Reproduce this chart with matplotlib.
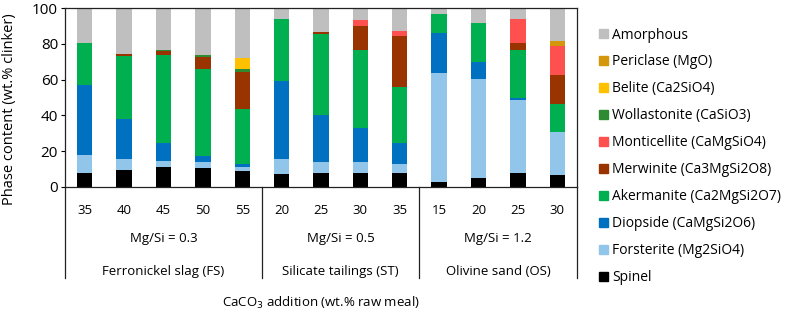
import numpy as np
import matplotlib
matplotlib.use('Agg')
import matplotlib.pyplot as plt
import matplotlib.patches as pch
from matplotlib.lines import Line2D

plt.rcParams['font.family'] = ['Open Sans', 'DejaVu Sans']

""" data """

categories = ['35', '40', '45', '50', '55', '20', '25', '30', '35', '15', '20', '25', '30']
groups = ['Ferronickel slag (FS)', 'Silicate tailings (ST)', 'Olivine sand (OS)']
ratios = ['Mg/Si = 0.3', 'Mg/Si = 0.5', 'Mg/Si = 1.2']
group_sizes = [5, 4, 4]

spinel       = [7.8, 9.7, 11.4, 10.6, 9.0, 7.3, 8.0, 7.8, 7.8, 3.0, 5.0, 7.8, 6.5]
forsterite   = [10.3, 5.8, 3.0, 3.2, 2.0, 8.2, 6.2, 6.0, 5.3, 60.8, 55.4, 40.9, 24.1]
diopside     = [39.0, 22.6, 10.0, 3.7, 1.7, 43.8, 25.9, 19.4, 11.3, 22.4, 9.6, 1.1, 0.0]
akermanite   = [23.1, 35.2, 49.1, 48.5, 31.0, 34.5, 45.3, 43.3, 31.2, 10.4, 21.6, 26.7, 15.9]
merwinite    = [0.0, 1.1, 2.4, 6.4, 20.7, 0.0, 1.2, 13.6, 28.5, 0.0, 0.0, 3.9, 15.8]
monticellite = [0.0, 0.0, 0.0, 0.0, 0.0, 0.0, 0.0, 3.2, 2.8, 0.0, 0.0, 13.4, 16.6]
wollastonite = [0.0, 0.0, 0.8, 1.1, 1.6, 0.0, 0.0, 0.0, 0.0, 0.0, 0.0, 0.0, 0.0]
belite       = [0.0, 0.0, 0.0, 0.0, 6.0, 0.0, 0.0, 0.0, 0.0, 0.0, 0.0, 0.0, 0.0]
periclase    = [0.0, 0.0, 0.0, 0.0, 0.0, 0.0, 0.0, 0.0, 0.0, 0.0, 0.0, 0.0, 2.8]
amorphous    = [19.8, 25.6, 23.3, 26.5, 28.0, 6.2, 13.4, 6.7, 13.1, 3.4, 8.4, 6.2, 18.3]

# stacking order bottom -> top
phases = [
    ('Spinel', spinel, '#000000'),
    ('Forsterite (Mg2SiO4)', forsterite, '#92C5EA'),
    ('Diopside (CaMgSi2O6)', diopside, '#0070C0'),
    ('Akermanite (Ca2MgSi2O7)', akermanite, '#00B050'),
    ('Merwinite (Ca3MgSi2O8)', merwinite, '#993300'),
    ('Monticellite (CaMgSiO4)', monticellite, '#FF5050'),
    ('Wollastonite (CaSiO3)', wollastonite, '#2E8B32'),
    ('Belite (Ca2SiO4)', belite, '#FFC000'),
    ('Periclase (MgO)', periclase, '#D4960A'),
    ('Amorphous', amorphous, '#BFBFBF'),
]

""" plot """

fig = plt.figure(figsize=(7.96, 3.14), dpi=100)
ax = fig.add_axes([0.0817, 0.4045, 0.6432, 0.570])

x = np.arange(len(categories))
bottom = np.zeros(len(categories))
handles = []
for name, vals, colour in phases:
    vals = np.array(vals)
    ax.bar(x, vals, width=0.39, bottom=bottom, color=colour, linewidth=0)
    bottom += vals
    handles.append(pch.Patch(color=colour, label=name))

ax.set_xlim(-0.5, len(categories) - 0.5)
ax.set_ylim(0, 100)
ax.set_yticks([0, 20, 40, 60, 80, 100])
ax.set_xticks(x)
ax.set_xticklabels(categories)
ax.tick_params(axis='x', length=0, pad=12, labelsize=9.5)
ax.tick_params(axis='y', length=3, width=0.8, labelsize=11, pad=2)
for s in ax.spines.values():
    s.set_linewidth(0.9)
    s.set_color('#222222')

# y label placed on the figure
fig.text(10 / 796, 1 - 109 / 314, 'Phase content (wt.% clinker)', rotation=90,
         ha='center', va='center', fontsize=10.5)

# group separators and labels under the axis
trans = ax.get_xaxis_transform()
bounds = np.concatenate([[0], np.cumsum(group_sizes)]) - 0.5
for b in bounds:
    ax.add_line(Line2D([b, b], [0, -0.51], transform=trans, color='#222222',
                       linewidth=0.9, clip_on=False))
for i in range(len(group_sizes)):
    mid = (bounds[i] + bounds[i + 1]) / 2
    ax.text(mid, -0.29, ratios[i], transform=trans, ha='center', va='center', fontsize=9.5)
    ax.text(mid, -0.47, groups[i], transform=trans, ha='center', va='center', fontsize=9.5)

ax.text(0.5, -0.65, 'CaCO$_3$ addition (wt.% raw meal)', transform=ax.transAxes,
        ha='center', va='center', fontsize=9.5)

# legend, Amorphous on top
fig.legend(handles=handles[::-1], loc='upper left', bbox_to_anchor=(0.745, 0.93),
           frameon=False, fontsize=10, handlelength=0.65, handleheight=0.65,
           handletextpad=0.35, labelspacing=0.86, borderaxespad=0)

plt.savefig('out.png', dpi=100)
